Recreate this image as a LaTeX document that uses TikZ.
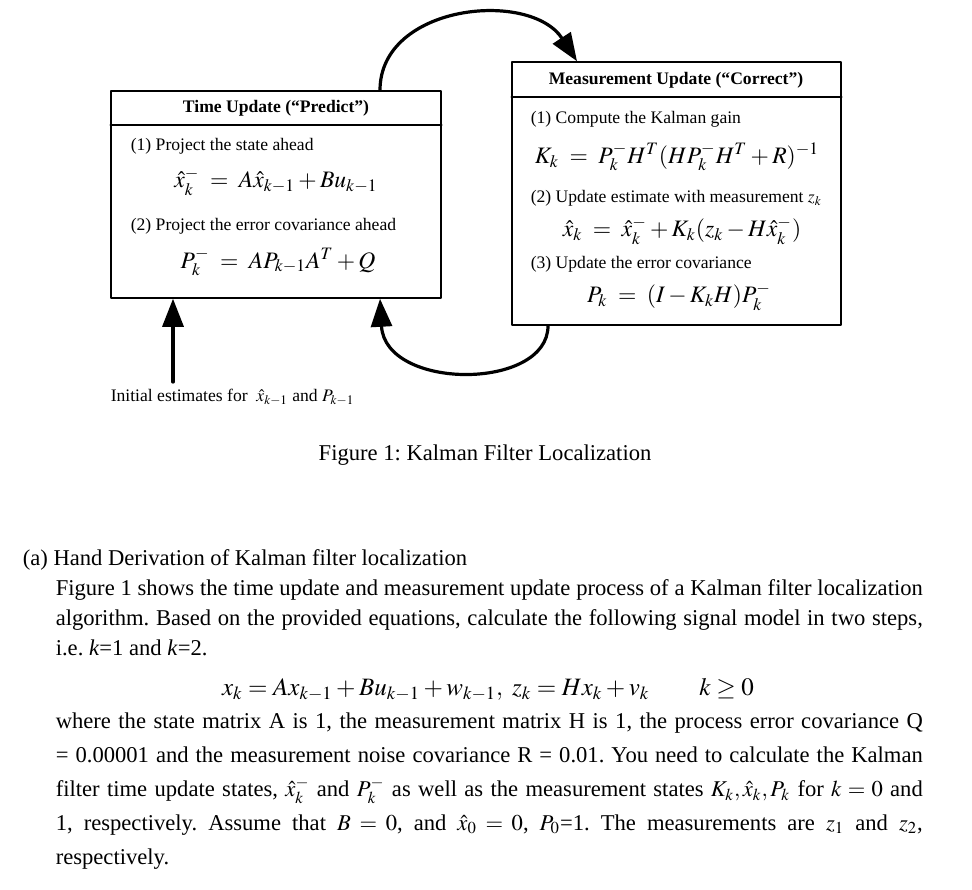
\documentclass[tikz,border=0pt]{standalone}
\usepackage{mathptmx}
\usepackage{fontspec}
\setmainfont{Liberation Serif}
\usepackage{tikz}
\usetikzlibrary{calc}
\usetikzlibrary{arrows.meta}
\tikzstyle{every node}=[inner sep=0pt]
\tikzstyle{every path}=[line width=0.8pt,line cap=round,line join=round]
\newcommand{\boxfont}{\fontsize{8.8}{10}\selectfont}
\newcommand{\eqfont}{\fontsize{11.8}{13}\selectfont}
\newcommand{\bodyfont}{\fontsize{11.3}{15}\selectfont}
\newcommand{\headrule}[2]{\draw[line width=0.75pt] (#1.west |- #2) -- (#1.east |- #2);}
\frenchspacing

\begin{document}
\begin{tikzpicture}[x=0.5pt,y=-0.5pt]
		\tikzstyle{panel} = [draw,line width=0.75pt,inner sep=0pt]
		\tikzstyle{bigarrow} = [line width=1.6pt,-{Triangle[length=14pt, width=10.5pt]}]
		\useasboundingbox (0,0) rectangle (972,889);
		
		\node[panel,minimum width=165pt,minimum height=103.5pt] (predict) at (276,194.5) {};
		\node[panel,minimum width=164.5pt,minimum height=131.5pt] (correct) at (676.5,193.5) {};
		\coordinate (predicthead) at (0,125);
		\coordinate (correcthead) at (0,97);
		\headrule{predict}{predicthead}
		\headrule{correct}{correcthead}
		
		\node[font=\boxfont\bfseries] (predicttitle) at (276,108) {Time Update (``Predict'')};
		\node[anchor=west,font=\boxfont] (predict1) at (130,146) {(1) Project the state ahead};
		\node[font=\eqfont] (eqx) at (276,182) {$\hat{x}_k^- \;=\; A\hat{x}_{k-1} + Bu_{k-1}$};
		\node[anchor=west,font=\boxfont] (predict2) at (130,226) {(2) Project the error covariance ahead};
		\node[font=\eqfont] (eqp) at (278,262) {$P_k^- \;=\; AP_{k-1}A^T + Q$};
		
		\node[font=\boxfont\bfseries] (correcttitle) at (676,80) {Measurement Update (``Correct'')};
		\node[anchor=west,font=\boxfont] (correct1) at (530,119) {(1) Compute the Kalman gain};
		\node[font=\eqfont] (eqk) at (677,157) {$K_k \;=\; P_k^-H^T(HP_k^-H^T + R)^{-1}$};
		\node[anchor=west,font=\boxfont] (correct2) at (530,198) {(2) Update estimate with measurement $z_k$};
		\node[font=\eqfont] (eqxk) at (682,231) {$\hat{x}_k \;=\; \hat{x}_k^- + K_k(z_k - H\hat{x}_k^-)$};
		\node[anchor=west,font=\boxfont] (correct3) at (530,264) {(3) Update the error covariance};
		\node[font=\eqfont] (eqpk) at (679,297) {$P_k \;=\; (I - K_kH)P_k^-$};
		
		\node[anchor=west,font=\boxfont] (init) at (110,397) {Initial estimates for \ $\hat{x}_{k-1}$ and $P_{k-1}$};
		
		\coordinate (topstart) at (380,0);
		\coordinate (topend) at (577,0);
		\coordinate (botstart) at (548,0);
		\coordinate (botend) at (380,0);
		\coordinate (initx) at (173,0);
		\draw[bigarrow] (predict.north -| topstart) .. controls +(0,-86) and +(-47,-72) .. (correct.north -| topend);
		\draw[bigarrow] (correct.south -| botstart) .. controls +(0,65) and +(5,92) .. (predict.south -| botend);
		\draw[bigarrow,shorten <=3pt] (init.north -| initx) -- (predict.south -| initx);
		
		\node[font=\bodyfont] (caption) at (485,455) {Figure 1: Kalman Filter Localization};
		
		\node[anchor=west,font=\bodyfont] (parta) at (22,560) {(a) Hand Derivation of Kalman filter localization};
		\node[anchor=north west,text width=433.5pt,align=justify,font=\bodyfont] (para1) at (55,579)
			{Figure 1 shows the time update and measurement update process of a Kalman filter localization\linebreak
			algorithm. Based on the provided equations, calculate the following signal model in two steps,\linebreak
			i.e. \textit{k}=1 and \textit{k}=2.};
		\node[font=\fontsize{12.5}{15}\selectfont] (model) at (488,690) {$x_k = Ax_{k-1} + Bu_{k-1} + w_{k-1},\ z_k = Hx_k + v_k \qquad k \geq 0$};
		\node[anchor=north west,text width=433.5pt,align=justify,font=\fontsize{11.3}{17}\selectfont] (para2) at (55,712)
			{where the state matrix A is 1, the measurement matrix H is 1, the process error covariance Q\linebreak
			= 0.00001 and the measurement noise covariance R = 0.01. You need to calculate the Kalman\linebreak
			filter time update states, $\hat{x}_k^-$ and $P_k^-$ as well as the measurement states $K_k, \hat{x}_k, P_k$ for $k = 0$ and\linebreak
			1, respectively. Assume that $B = 0$, and $\hat{x}_0 = 0$, $P_0$=1. The measurements are $z_1$ and $z_2$,\linebreak
			respectively.};
		
	\end{tikzpicture}
\end{document}
